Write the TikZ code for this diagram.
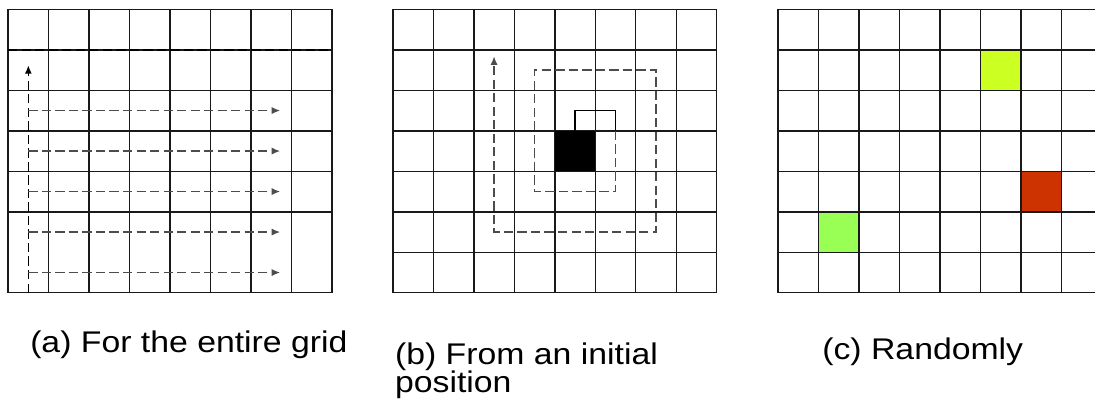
\documentclass[tikz,border=0pt]{standalone}
\usepackage{fontspec}
\setmainfont{Liberation Sans}[FakeStretch=1.13]
\usetikzlibrary{arrows.meta}
\definecolor{limecell}{RGB}{204,255,34}
\definecolor{redcell}{RGB}{204,51,0}
\definecolor{greencell}{RGB}{153,255,85}
\tikzset{
  gridline/.style={line width=1pt,black!90},
  walk/.style={line width=1.1pt,black!70,dash pattern=on 6.5pt off 3pt},
  walktip/.style={-{Latex[length=6pt,width=5pt]}},
  caption/.style={anchor=base west,inner sep=0pt,align=left,font=\fontsize{21}{19.7}\selectfont}
}
\begin{document}
\begin{tikzpicture}
    \useasboundingbox (0,0) rectangle (27.04,9.9);
    % (a) row by row over the whole grid
    \begin{scope}[shift={(0.2,2.67)}]
        \foreach \y in {0,2,3,...,7} \draw[gridline] (0,\y)--(8,\y);
        \foreach \x in {0,...,8} \draw[gridline] (\x,0)--(\x,7);
        \draw[walk,black] (0,6)--(8,6);
        \coordinate (atop) at (0.5,5.62);
        \draw[walk,walktip,black] (0.5,0)--(atop);
        \foreach \y in {0.5,1.5,...,4.5} \draw[walk,walktip] (0.5,\y)--(6.72,\y);
    \end{scope}
    % (b) spiral from the start cell
    \begin{scope}[shift={(9.7,2.67)}]
        \foreach \y in {0,...,7} \draw[gridline] (0,\y)--(8,\y);
        \foreach \x in {0,...,8} \draw[gridline] (\x,0)--(\x,7);
        \fill (4,3) rectangle (5,4);
        \draw[line width=1.1pt] (4.5,4)--(4.5,4.5)--(5.5,4.5)--(5.5,4);
        \draw[walk,walktip] (5.5,4)--(5.5,2.5)--(3.5,2.5)--(3.5,5.5)--(6.5,5.5)--(6.5,1.5)--(2.5,1.5)--(2.5,5.84);
    \end{scope}
    % (c) random cells
    \begin{scope}[shift={(19.21,2.67)}]
        \fill[limecell] (5,5) rectangle (6,6);
        \fill[redcell] (6,2) rectangle (7,3);
        \fill[greencell] (1,1) rectangle (2,2);
        \foreach \y in {0,...,7} \draw[gridline] (0,\y)--(7.83,\y);
        \foreach \x in {0,...,7} \draw[gridline] (\x,0)--(\x,7);
    \end{scope}
    \node[caption] (capa) at (0.74,1.185) {(a) For the entire grid};
    \node[caption] (capb) at (9.75,0.198) {(b) From an initial\\position};
    \node[caption] (capc) at (20.30,1.012) {(c) Randomly};
\end{tikzpicture}
\end{document}
